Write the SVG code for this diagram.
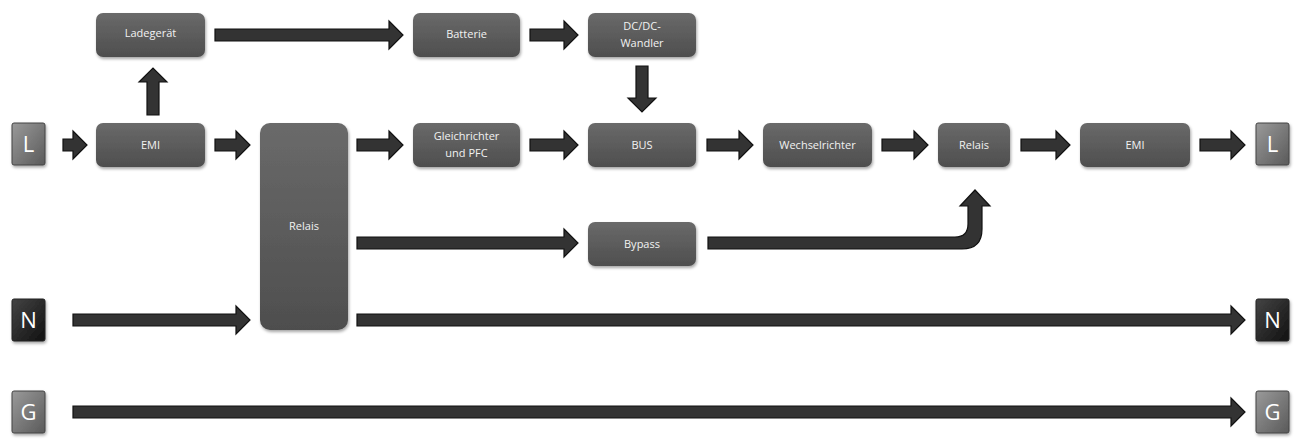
<svg xmlns="http://www.w3.org/2000/svg" width="1304" height="445" viewBox="0 0 1304 445">
<defs>
<linearGradient id="gb" x1="0" y1="0" x2="0" y2="1"><stop offset="0" stop-color="#6a6a6a"/><stop offset="1" stop-color="#4e4e4e"/></linearGradient>
<linearGradient id="gk" x1="0" y1="0" x2="1" y2="1"><stop offset="0" stop-color="#9a9a9a"/><stop offset="1" stop-color="#5a5a5a"/></linearGradient>
<linearGradient id="gn" x1="0" y1="0" x2="1" y2="1"><stop offset="0" stop-color="#444"/><stop offset="1" stop-color="#111"/></linearGradient>
<filter id="sh" x="-10%" y="-10%" width="130%" height="140%"><feDropShadow dx="1" dy="2" stdDeviation="1.5" flood-color="#000" flood-opacity="0.35"/></filter>
</defs>
<style>
.b{fill:url(#gb);filter:url(#sh)}
.k{fill:url(#gk);stroke:#444;stroke-width:1;filter:url(#sh)}
.n{fill:url(#gn);stroke:#222;stroke-width:1;filter:url(#sh)}
.t{fill:#f2f2f2;font-family:"Open Sans","Liberation Sans",sans-serif;font-size:11px;text-anchor:middle}
.kt{fill:#fff;font-family:"Open Sans","Liberation Sans",sans-serif;font-size:22px;text-anchor:middle}
.a{fill:#333;stroke:#111;stroke-width:1.2}
</style>
<rect width="1304" height="445" fill="#fff"/>
<g id="L1"><rect class="k" x="12" y="123" width="33" height="42" rx="2"/><text class="kt" x="28.5" y="152">L</text></g>
<g id="L2"><rect class="k" x="1256" y="123" width="33" height="42" rx="2"/><text class="kt" x="1272.5" y="152">L</text></g>
<g id="N1"><rect class="n" x="12" y="299" width="33" height="42" rx="2"/><text class="kt" x="28.5" y="328">N</text></g>
<g id="N2"><rect class="n" x="1256" y="299" width="33" height="42" rx="2"/><text class="kt" x="1272.5" y="328">N</text></g>
<g id="G1"><rect class="k" x="12" y="391" width="33" height="42" rx="2"/><text class="kt" x="28.5" y="420">G</text></g>
<g id="G2"><rect class="k" x="1256" y="391" width="33" height="42" rx="2"/><text class="kt" x="1272.5" y="420">G</text></g>
<g id="ladegeraet"><rect class="b" x="96" y="13" width="109" height="44" rx="7"/><text class="t" x="150.5" y="37">Ladegerät</text></g>
<g id="emi1"><rect class="b" x="96" y="123" width="109" height="44" rx="7"/><text class="t" x="150.5" y="149">EMI</text></g>
<g id="relais1"><rect class="b" x="260" y="123" width="88" height="207" rx="10"/><text class="t" x="304" y="230">Relais</text></g>
<g id="gleichrichter"><rect class="b" x="413" y="123" width="107" height="44" rx="7"/><text class="t" x="466.5" y="140">Gleichrichter</text><text class="t" x="466.5" y="157">und PFC</text></g>
<g id="batterie"><rect class="b" x="413" y="13" width="107" height="44" rx="7"/><text class="t" x="466.5" y="38">Batterie</text></g>
<g id="dcdc"><rect class="b" x="588" y="13" width="108" height="44" rx="7"/><text class="t" x="642" y="30">DC/DC-</text><text class="t" x="642" y="47">Wandler</text></g>
<g id="bus"><rect class="b" x="588" y="123" width="108" height="44" rx="7"/><text class="t" x="642" y="149">BUS</text></g>
<g id="bypass"><rect class="b" x="588" y="222" width="108" height="44" rx="7"/><text class="t" x="642" y="248">Bypass</text></g>
<g id="wechselrichter"><rect class="b" x="763" y="123" width="109" height="44" rx="7"/><text class="t" x="817.5" y="149">Wechselrichter</text></g>
<g id="relais2"><rect class="b" x="938" y="123" width="72" height="44" rx="7"/><text class="t" x="974" y="149">Relais</text></g>
<g id="emi2"><rect class="b" x="1080" y="123" width="110" height="44" rx="7"/><text class="t" x="1135" y="149">EMI</text></g>
<g id="connectors">
<path class="a" d="M63,139 H73 V131 L87,145 L73,159 V151 H63 Z"/>
<path class="a" d="M215,139 H236 V131 L250,145 L236,159 V151 H215 Z"/>
<path class="a" d="M357,139 H389 V131 L403,145 L389,159 V151 H357 Z"/>
<path class="a" d="M530,139 H564 V131 L578,145 L564,159 V151 H530 Z"/>
<path class="a" d="M707,139 H739 V131 L753,145 L739,159 V151 H707 Z"/>
<path class="a" d="M882,139 H914 V131 L928,145 L914,159 V151 H882 Z"/>
<path class="a" d="M1021,139 H1056 V131 L1070,145 L1056,159 V151 H1021 Z"/>
<path class="a" d="M1200,139 H1231 V131 L1245,145 L1231,159 V151 H1200 Z"/>
<path class="a" d="M147,115 V82 H139 L153,68 L167,82 H159 V115 Z"/>
<path class="a" d="M215,29 H389 V21 L403,35 L389,49 V41 H215 Z"/>
<path class="a" d="M530,29 H564 V21 L578,35 L564,49 V41 H530 Z"/>
<path class="a" d="M636,66 V98 H628 L642,112 L656,98 H648 V66 Z"/>
<path class="a" d="M357,237 H564 V229 L578,243 L564,257 V249 H357 Z"/>
<path class="a" d="M708,237 H955 Q968,237 968,224 V206 H960 L975,190 L990,206 H982 V229 Q982,249 962,249 H708 Z"/>
<path class="a" d="M73,314 H236 V306 L250,320 L236,334 V326 H73 Z"/>
<path class="a" d="M357,314 H1231 V306 L1245,320 L1231,334 V326 H357 Z"/>
<path class="a" d="M73,406 H1231 V398 L1245,412 L1231,426 V418 H73 Z"/>
</g>
</svg>
